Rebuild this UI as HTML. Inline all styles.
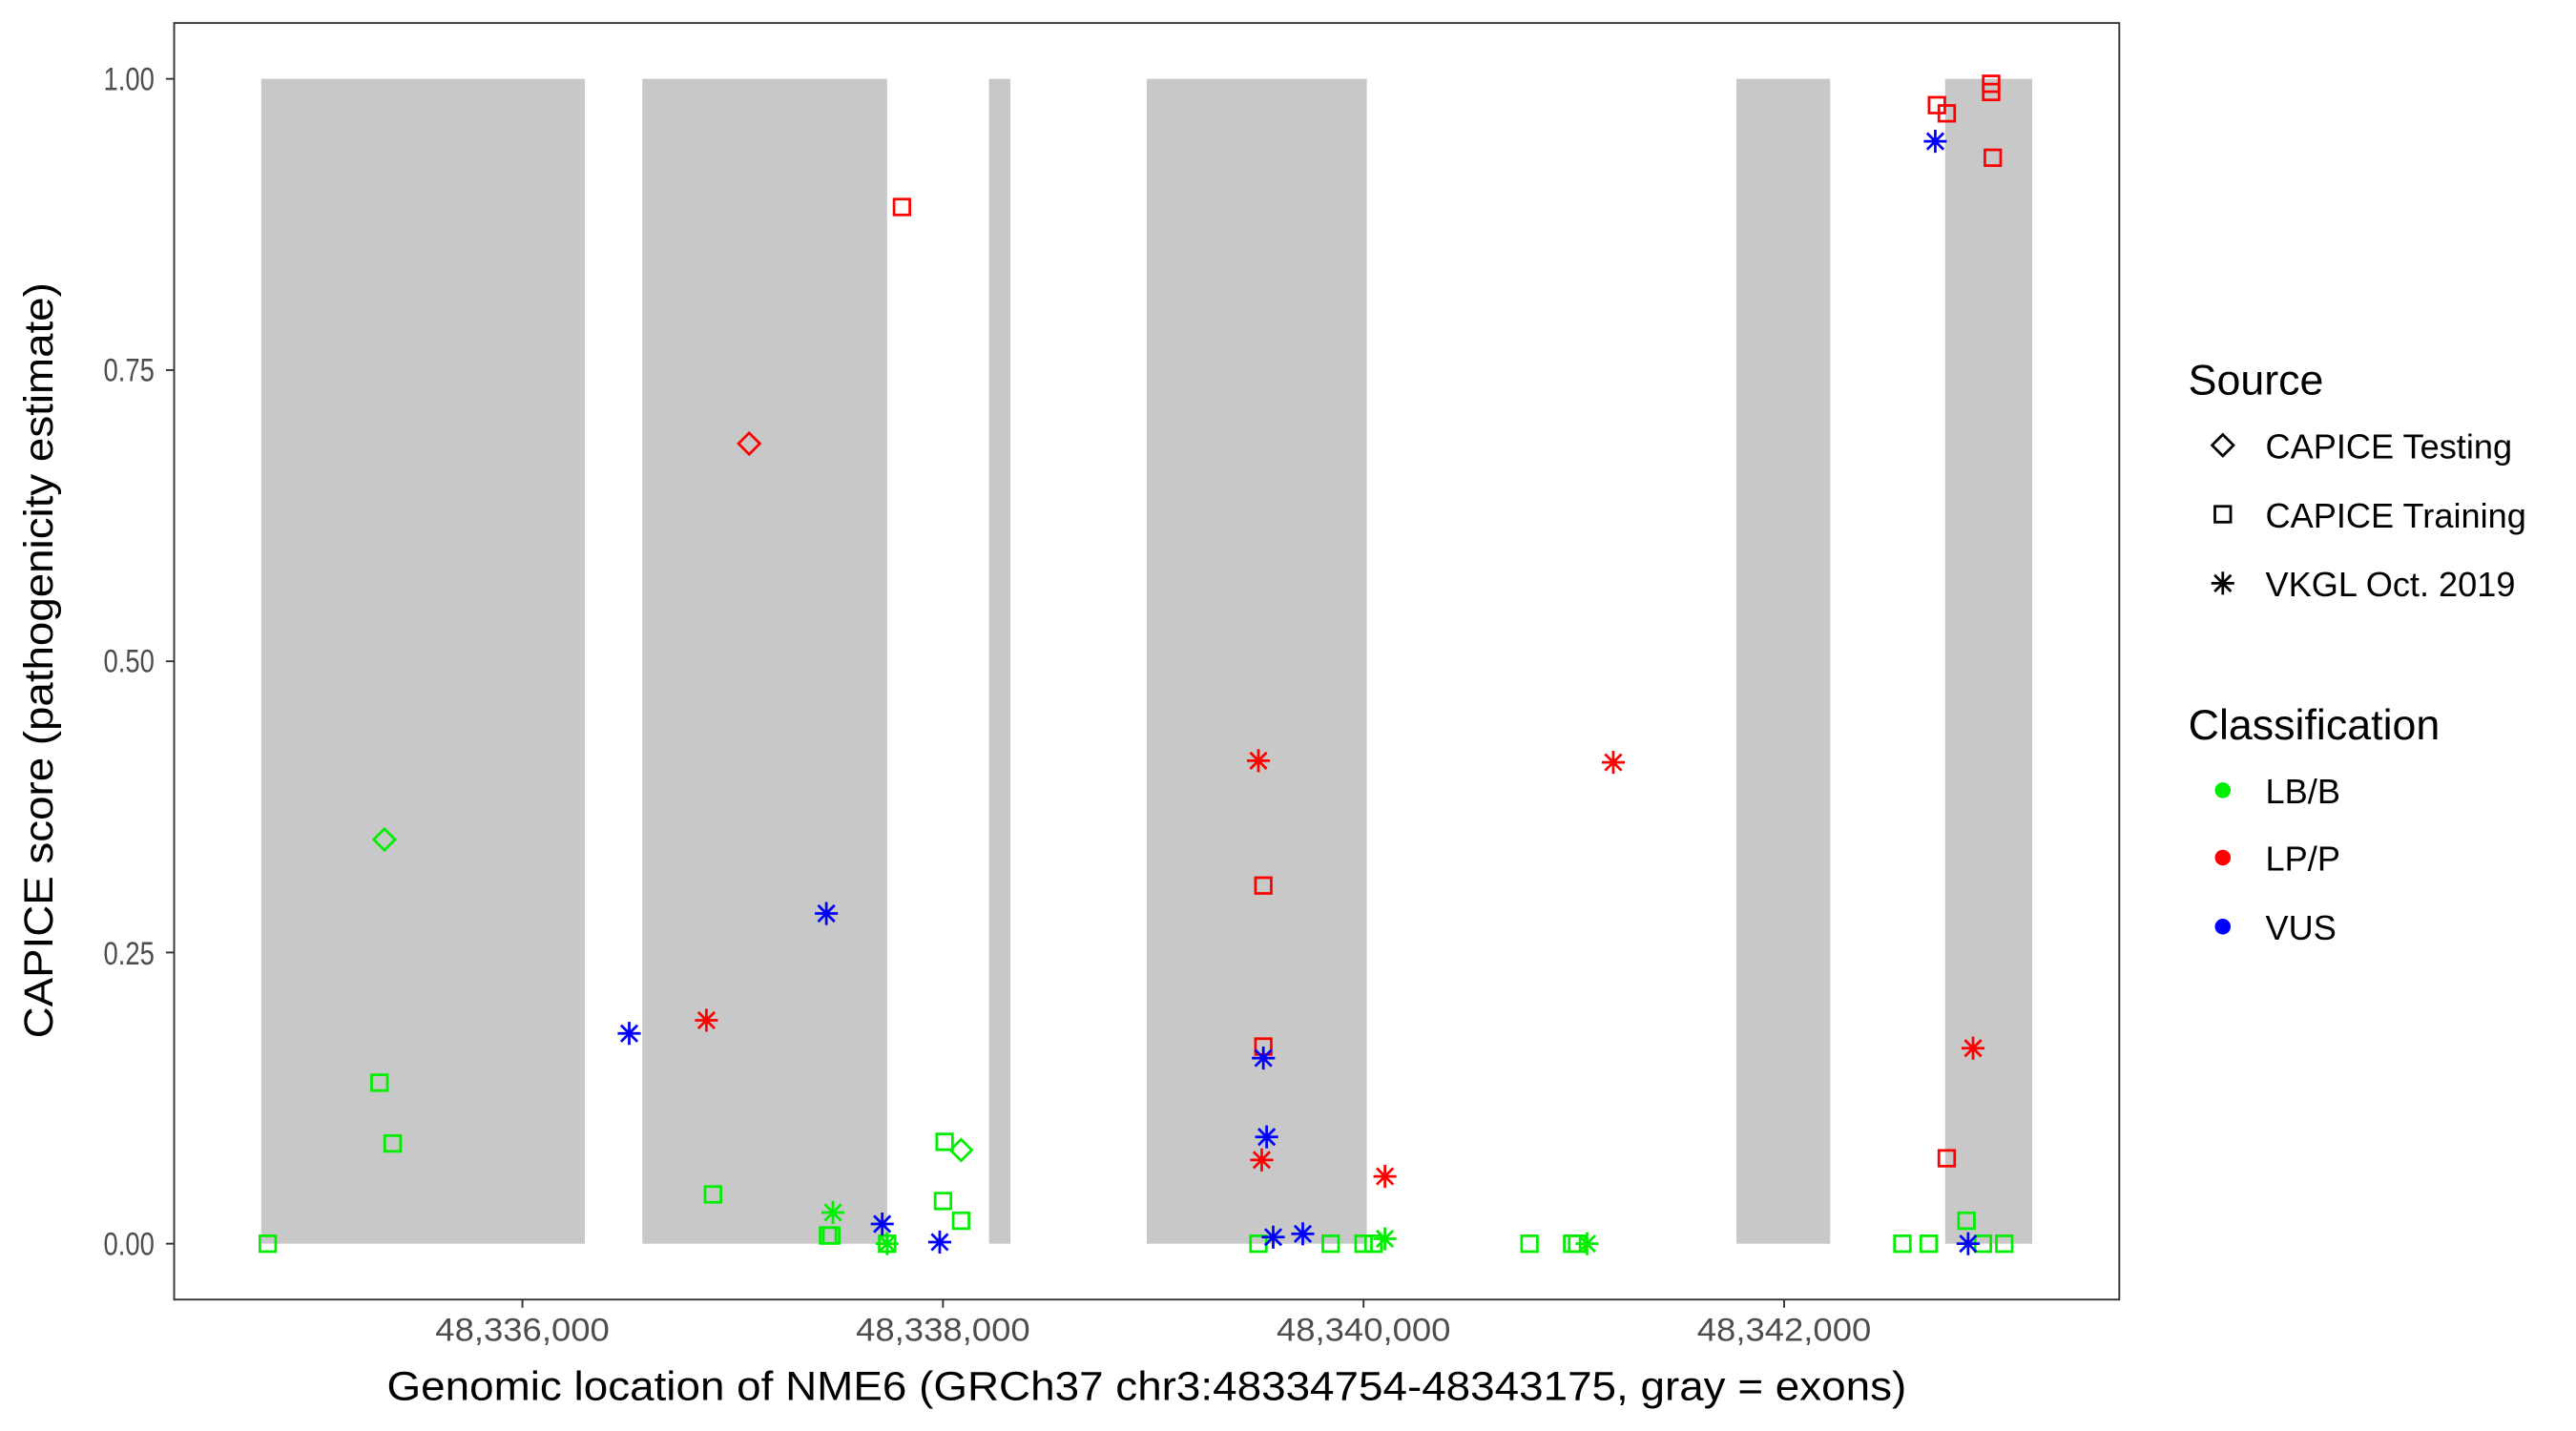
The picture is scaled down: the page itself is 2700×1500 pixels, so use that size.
<!DOCTYPE html>
<html><head><meta charset="utf-8"><style>html,body{margin:0;padding:0;background:#fff}svg{display:block}</style></head>
<body>
<svg width="2700" height="1500" viewBox="0 0 1568 871" preserveAspectRatio="none" xmlns="http://www.w3.org/2000/svg" font-family="Liberation Sans, sans-serif">
<defs>
<g id="sq"><rect x="-4.8" y="-4.8" width="9.6" height="9.6" fill="none" stroke-width="1.6"/></g>
<g id="di"><path d="M0,-6.5 L6.5,0 L0,6.5 L-6.5,0 Z" fill="none" stroke-width="1.6"/></g>
<g id="as"><path d="M0,-7 V7 M-7,0 H7 M-5,-5 L5,5 M-5,5 L5,-5" fill="none" stroke-width="1.6"/></g>
</defs>
<rect x="0" y="0" width="1568" height="871" fill="#fff"/>
<g fill="#c8c8c8">
<rect x="159" y="48" width="197" height="709"/>
<rect x="391" y="48" width="149" height="709"/>
<rect x="602" y="48" width="13" height="709"/>
<rect x="698" y="48" width="134" height="709"/>
<rect x="1057" y="48" width="57" height="709"/>
<rect x="1184" y="48" width="53" height="709"/>
</g>
<rect x="106" y="14" width="1184" height="777" fill="none" stroke="#333" stroke-width="1.1"/>
<g stroke="#333" stroke-width="1.1">
<line x1="101" x2="106" y1="48" y2="48"/><line x1="101" x2="106" y1="225.25" y2="225.25"/><line x1="101" x2="106" y1="402.5" y2="402.5"/><line x1="101" x2="106" y1="579.75" y2="579.75"/><line x1="101" x2="106" y1="757" y2="757"/>
<line x1="318" x2="318" y1="791" y2="796"/><line x1="574" x2="574" y1="791" y2="796"/><line x1="830" x2="830" y1="791" y2="796"/><line x1="1086" x2="1086" y1="791" y2="796"/>
</g>
<g font-size="20" fill="#4d4d4d" text-anchor="end">
<text x="94" y="55" textLength="31" lengthAdjust="spacingAndGlyphs">1.00</text><text x="94" y="232" textLength="31" lengthAdjust="spacingAndGlyphs">0.75</text><text x="94" y="409" textLength="31" lengthAdjust="spacingAndGlyphs">0.50</text><text x="94" y="587" textLength="31" lengthAdjust="spacingAndGlyphs">0.25</text><text x="94" y="764" textLength="31" lengthAdjust="spacingAndGlyphs">0.00</text>
</g>
<g font-size="20" fill="#4d4d4d" text-anchor="middle">
<text x="318" y="816" textLength="106" lengthAdjust="spacingAndGlyphs">48,336,000</text><text x="574" y="816" textLength="106" lengthAdjust="spacingAndGlyphs">48,338,000</text><text x="830" y="816" textLength="106" lengthAdjust="spacingAndGlyphs">48,340,000</text><text x="1086" y="816" textLength="106" lengthAdjust="spacingAndGlyphs">48,342,000</text>
</g>
<text x="698" y="852" font-size="25" text-anchor="middle" textLength="925" lengthAdjust="spacingAndGlyphs">Genomic location of NME6 (GRCh37 chr3:48334754-48343175, gray = exons)</text>
<text transform="translate(32,402) rotate(-90)" font-size="25" text-anchor="middle" textLength="460" lengthAdjust="spacingAndGlyphs">CAPICE score (pathogenicity estimate)</text>
<g stroke="#00ee00">
<use href="#sq" x="163" y="757"/><use href="#sq" x="231" y="659"/><use href="#sq" x="239" y="696"/><use href="#sq" x="434" y="727"/><use href="#sq" x="504" y="752"/><use href="#sq" x="506" y="752"/><use href="#sq" x="540" y="757"/><use href="#sq" x="575" y="695"/><use href="#sq" x="574" y="731"/><use href="#sq" x="585" y="743"/><use href="#sq" x="766" y="757"/><use href="#sq" x="810" y="757"/><use href="#sq" x="830" y="757"/><use href="#sq" x="836" y="757"/><use href="#sq" x="931" y="757"/><use href="#sq" x="957" y="757"/><use href="#sq" x="960" y="757"/><use href="#sq" x="1158" y="757"/><use href="#sq" x="1174" y="757"/><use href="#sq" x="1197" y="743"/><use href="#sq" x="1207" y="757"/><use href="#sq" x="1220" y="757"/>
<use href="#di" x="234" y="511"/><use href="#di" x="585" y="700"/>
<use href="#as" x="507" y="738"/><use href="#as" x="540" y="757"/><use href="#as" x="843" y="754"/><use href="#as" x="966" y="757"/>
</g>
<g stroke="#ff0000">
<use href="#sq" x="549" y="126"/><use href="#sq" x="769" y="539"/><use href="#sq" x="769" y="637"/><use href="#sq" x="1179" y="64"/><use href="#sq" x="1185" y="69"/><use href="#sq" x="1212" y="51"/><use href="#sq" x="1212" y="56"/><use href="#sq" x="1213" y="96"/><use href="#sq" x="1185" y="705"/>
<use href="#di" x="456" y="270"/>
<use href="#as" x="430" y="621"/><use href="#as" x="766" y="463"/><use href="#as" x="768" y="706"/><use href="#as" x="843" y="716"/><use href="#as" x="982" y="464"/><use href="#as" x="1201" y="638"/>
</g>
<g stroke="#0000ff">
<use href="#as" x="383" y="629"/><use href="#as" x="503" y="556"/><use href="#as" x="537" y="745"/><use href="#as" x="572" y="756"/><use href="#as" x="769" y="644"/><use href="#as" x="771" y="692"/><use href="#as" x="775" y="753"/><use href="#as" x="793" y="751"/><use href="#as" x="1178" y="86"/><use href="#as" x="1198" y="757"/>
</g>
<text x="1332" y="240" font-size="26">Source</text>
<g stroke="#000"><use href="#di" x="1353" y="271"/><use href="#sq" x="1353" y="313"/><use href="#as" x="1353" y="355"/></g>
<g font-size="21"><text x="1379" y="279">CAPICE Testing</text><text x="1379" y="321">CAPICE Training</text><text x="1379" y="363">VKGL Oct. 2019</text></g>
<text x="1332" y="450" font-size="26">Classification</text>
<circle cx="1353" cy="481" r="4.8" fill="#00ee00"/><circle cx="1353" cy="522" r="4.8" fill="#ff0000"/><circle cx="1353" cy="564" r="4.8" fill="#0000ff"/>
<g font-size="21"><text x="1379" y="489">LB/B</text><text x="1379" y="530">LP/P</text><text x="1379" y="572">VUS</text></g>
</svg>
</body></html>
